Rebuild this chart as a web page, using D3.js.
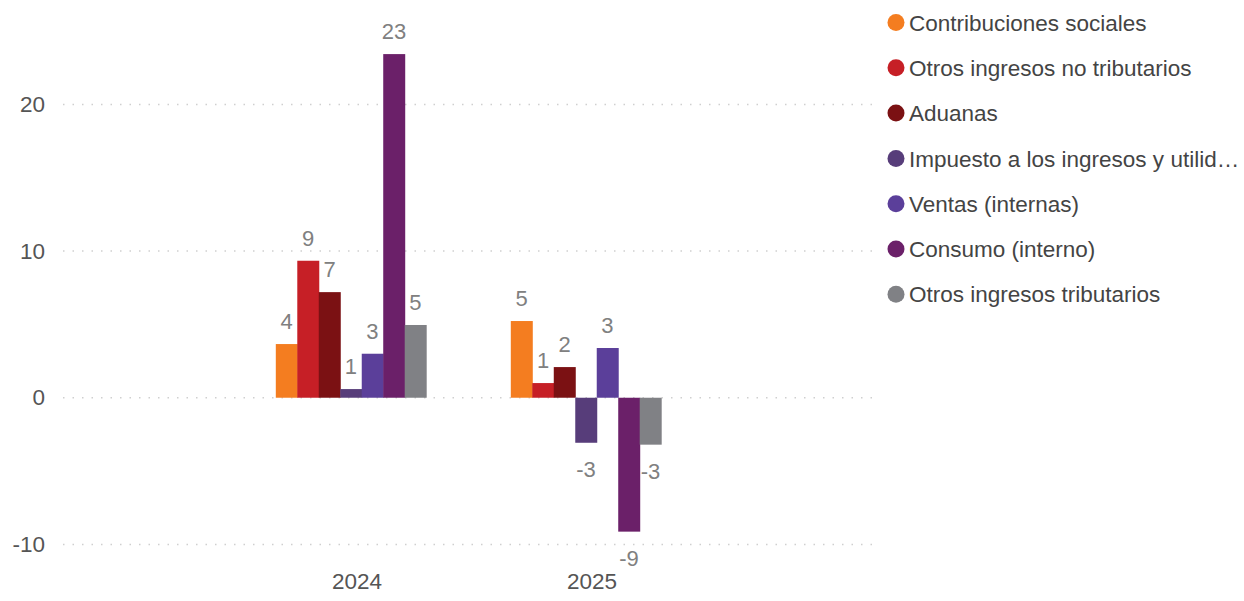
<!DOCTYPE html>
<html>
<head>
<meta charset="utf-8">
<script src="https://cdn.jsdelivr.net/npm/d3@7"></script>
<style>
  body { margin: 0; background: #fff; }
  text { font-family: "Liberation Sans", Arial, sans-serif; }
</style>
</head>
<body>
<div id="container"></div>
<script>
var years = ['2024', '2025'];
var seriesNames = [
  'Contribuciones sociales',
  'Otros ingresos no tributarios',
  'Aduanas',
  'Impuesto a los ingresos y utilidades',
  'Ventas (internas)',
  'Consumo (interno)',
  'Otros ingresos tributarios'
];
var values2024 = [3.66, 9.34, 7.2, 0.59, 3.0, 23.43, 4.96];
var values2025 = [5.23, 1.0, 2.09, -3.07, 3.39, -9.13, -3.2];
var yTicks = [-10, 0, 10, 20];
var colors = ['#f47d20', '#c61f26', '#7b1113', '#573d7a', '#5b3f9a', '#6b2069', '#808185'];

var valuesByYear = { '2024': values2024, '2025': values2025 };

var width = 1244, height = 601;

var svg = d3.select('#container').append('svg')
  .attr('width', width)
  .attr('height', height);

var x0 = d3.scaleBand()
  .domain(years)
  .range([233.5, 703.5])
  .paddingInner(0.36)
  .paddingOuter(0.18);

var x1 = d3.scaleBand()
  .domain(seriesNames)
  .range([0, x0.bandwidth()]);

var y = d3.scaleLinear()
  .domain([-10, 20])
  .range([544.4, 104.4]);

var color = d3.scaleOrdinal().domain(seriesNames).range(colors);

// gridlines
svg.append('g').selectAll('line')
  .data(yTicks)
  .enter().append('line')
    .attr('x1', 63).attr('x2', 880)
    .attr('y1', function(d) { return y(d); })
    .attr('y2', function(d) { return y(d); })
    .attr('stroke', '#cfcfcf')
    .attr('stroke-width', 1.5)
    .attr('stroke-dasharray', '1.5,8');

// y axis
var yAxis = svg.append('g')
  .attr('transform', 'translate(45,0)')
  .call(d3.axisLeft(y).tickValues(yTicks).tickSize(0).tickPadding(0)
    .tickFormat(function(d) { return String(d); }));
yAxis.select('.domain').remove();
yAxis.selectAll('text')
  .attr('fill', '#555')
  .style('font-size', '22.5px')
  .style('font-family', '"Liberation Sans", Arial, sans-serif');

// x axis
var xAxis = svg.append('g')
  .attr('transform', 'translate(6,573)')
  .call(d3.axisBottom(x0).tickSize(0).tickPadding(0));
xAxis.select('.domain').remove();
xAxis.selectAll('text')
  .attr('fill', '#555')
  .attr('dy', '0.71em')
  .style('font-size', '22.5px')
  .style('font-family', '"Liberation Sans", Arial, sans-serif');

// bars
var groups = svg.append('g').selectAll('g')
  .data(years)
  .enter().append('g')
    .attr('transform', function(d) { return 'translate(' + x0(d) + ',0)'; });

var cells = groups.selectAll('g')
  .data(function(yr) {
    return seriesNames.map(function(s, i) { return { name: s, value: valuesByYear[yr][i] }; });
  })
  .enter().append('g');

cells.append('rect')
  .attr('x', function(d) { return x1(d.name); })
  .attr('width', x1.bandwidth() + 0.5)
  .attr('y', function(d) { return y(Math.max(0, d.value)); })
  .attr('height', function(d) { return Math.abs(y(d.value) - y(0)); })
  .attr('fill', function(d) { return color(d.name); });

cells.append('text')
  .attr('x', function(d) { return x1(d.name) + x1.bandwidth() / 2; })
  .attr('y', function(d) { return d.value >= 0 ? y(d.value) - 15 : y(d.value) + 34; })
  .attr('text-anchor', 'middle')
  .attr('fill', '#808080')
  .style('font-size', '22px')
  .text(function(d) { return String(Math.round(d.value)); });

// legend
var legend = svg.append('g').selectAll('g')
  .data(seriesNames)
  .enter().append('g')
    .attr('transform', function(d, i) { return 'translate(896,' + (22.5 + i * 45.3) + ')'; });

legend.append('circle')
  .attr('r', 8.5)
  .attr('fill', function(d) { return color(d); });

legend.append('text')
  .attr('x', 13)
  .attr('dy', '0.36em')
  .attr('fill', '#444')
  .style('font-size', '22.5px')
  .text(function(d) { return d; })
  .each(function(d) {
    var el = d3.select(this), maxW = width - 909 - 4, txt = d;
    while (txt.length && this.getComputedTextLength() > maxW) {
      txt = txt.slice(0, -1);
      el.text(txt.trim() + '…');
    }
  });
</script>
</body>
</html>
